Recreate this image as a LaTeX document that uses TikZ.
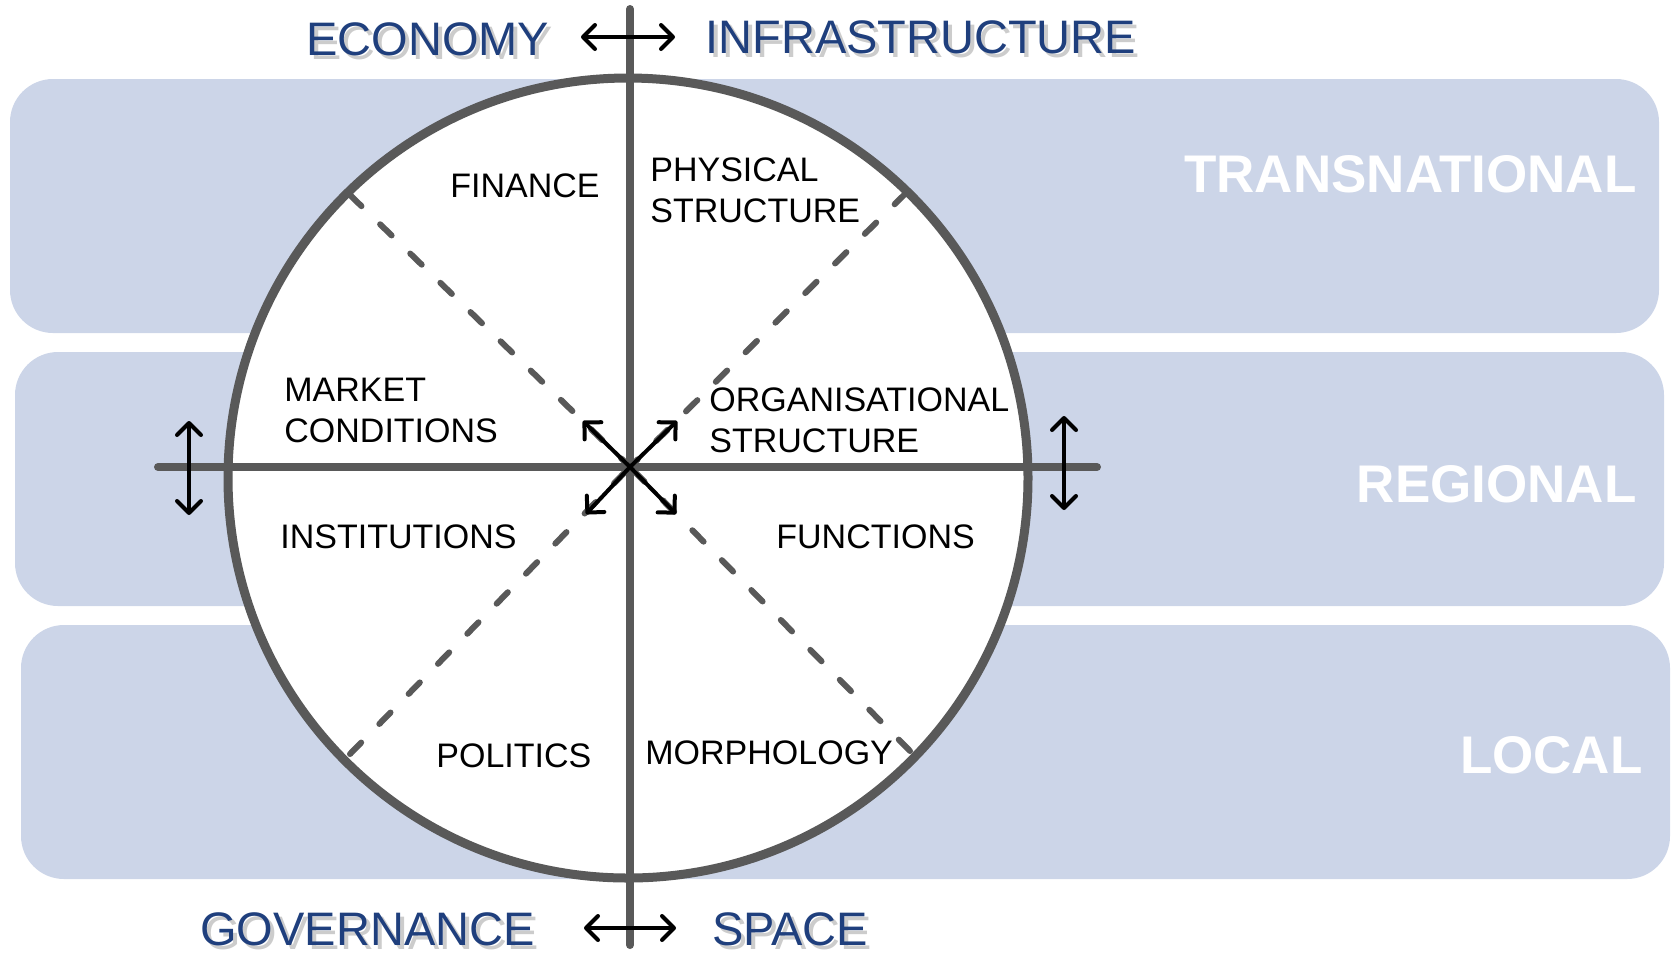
\documentclass[tikz,border=0pt]{standalone}
\usepackage{fontspec}
\setmainfont{Liberation Sans}
\usetikzlibrary{arrows.meta}
\definecolor{bandfill}{RGB}{204,213,232}
\definecolor{axisgray}{RGB}{89,89,89}
\definecolor{labelblue}{RGB}{31,63,125}
\definecolor{shadowgray}{RGB}{170,170,170}
\newcommand\shadowlabel[4]{%
  \node[bluelbl, text=shadowgray, text opacity=0.6, anchor=west] (#1sh) at (#2+4,#3+4) {#4};%
  \node[bluelbl, anchor=west] (#1) at (#2,#3) {#4};}
\begin{document}
\begin{tikzpicture}[x=0.5pt,y=-0.5pt,
  band/.style={fill=bandfill, draw=none, rounded corners=21.5pt},
  axisline/.style={draw=axisgray, line width=4pt, line cap=round},
  ring/.style={draw=axisgray, fill=white, line width=4.5pt},
  diag/.style={draw=axisgray, line width=3pt, line cap=round, dash pattern=on 8pt off 13pt},
  arr/.style={draw=black, line width=2pt, line cap=round,
     arrows={-Straight Barb[length=6pt,width=12pt,round]}},
  darr/.style={draw=black, line width=2pt, line cap=round,
     arrows={Straight Barb[length=6pt,width=12pt,round]-Straight Barb[length=6pt,width=12pt,round]}},
  cl/.style={inner sep=0pt, font=\fontsize{17}{20.5}\selectfont, align=left, text=black},
  bluelbl/.style={inner sep=0pt, font=\fontsize{23.5}{28}\selectfont, text=labelblue},
  bandlbl/.style={inner sep=0pt, font=\fontsize{26.5}{30}\selectfont\bfseries, text=white, anchor=east}]
\useasboundingbox (0,0) rectangle (1675,955);
% bands
\path[band] (10,79) rectangle (1659,333);
\path[band] (15,352) rectangle (1664,606);
\path[band] (21,625) rectangle (1670,879);
\node[bandlbl] (trans) at (1637,174) {TRANSNATIONAL};
\node[bandlbl] (regional) at (1637,484) {REGIONAL};
\node[bandlbl] (local) at (1643,755) {LOCAL};
% circle
\path[ring] (628,478) circle[radius=200pt];
% centre and diagonal end points
\coordinate (c) at (630,467);
\coordinate (dul) at (350,195);
\coordinate (dur) at (906,193);
\coordinate (dll) at (350,754);
\coordinate (dlr) at (910,751);
\draw[diag] (dul) -- (c);
\draw[diag] (dur) -- (c);
\draw[diag] (dll) -- (c);
\draw[diag] (dlr) -- (c);
% axes
\coordinate (vt) at (630,9);
\coordinate (vb) at (630,945);
\coordinate (hl) at (158,467);
\coordinate (hr) at (1097,467);
\draw[axisline] (vt) -- (vb);
\draw[axisline] (hl) -- (hr);
% centre arrows
\coordinate (aul) at (583,421);
\coordinate (aur) at (677,421);
\coordinate (all) at (586,514);
\coordinate (alr) at (676,514);
\draw[arr] (c) -- (aul);
\draw[arr] (c) -- (aur);
\draw[arr] (c) -- (all);
\draw[arr] (c) -- (alr);
% double arrows
\coordinate (ta1) at (581,37);
\coordinate (ta2) at (675,37);
\coordinate (ba1) at (584,928);
\coordinate (ba2) at (676,928);
\coordinate (la1) at (189,421);
\coordinate (la2) at (189,515);
\coordinate (ra1) at (1064,416);
\coordinate (ra2) at (1064,510);
\draw[darr] (ta1) -- (ta2);
\draw[darr] (ba1) -- (ba2);
\draw[darr] (la1) -- (la2);
\draw[darr] (ra1) -- (ra2);
% circle labels
\node[cl, anchor=west] (finance) at (450,186) {FINANCE};
\node[cl, anchor=west] (physical) at (650,190.5) {PHYSICAL\\STRUCTURE};
\node[cl, anchor=west] (market) at (284,410.5) {MARKET\\CONDITIONS};
\node[cl, anchor=west] (organis) at (709,420) {ORGANISATIONAL\\STRUCTURE};
\node[cl, anchor=west] (instit) at (280,537) {INSTITUTIONS};
\node[cl, anchor=west] (functions) at (776,537) {FUNCTIONS};
\node[cl, anchor=west] (politics) at (436,756) {POLITICS};
\node[cl, anchor=west] (morph) at (645,753) {MORPHOLOGY};
% blue labels with soft shadow
\shadowlabel{economy}{306}{39}{ECONOMY}
\shadowlabel{infra}{705}{37}{INFRASTRUCTURE}
\shadowlabel{governance}{200}{929}{GOVERNANCE}
\shadowlabel{space}{712}{929}{SPACE}
\end{tikzpicture}
\end{document}
